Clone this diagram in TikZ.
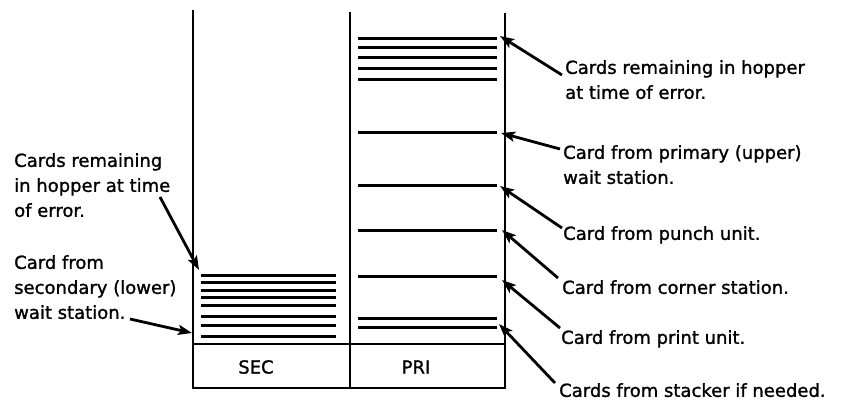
\documentclass[tikz,border=0pt]{standalone}
\usepackage{fontspec}
\setmainfont{DejaVu Sans}[BoldFont=DejaVu Sans,BoldFeatures={FakeBold=1.2}]
\usetikzlibrary{arrows.meta}
\begin{document}
\begin{tikzpicture}[x=1pt,y=-1pt,
  wall/.style={line width=2.8pt},
  card/.style={line width=3pt},
  ptr/.style={line width=2.8pt,-{Stealth[length=14pt,width=10pt,inset=3pt]}},
  lbl/.style={anchor=north west,inner sep=0pt,align=left,font=\fontsize{18}{25}\selectfont\bfseries},
  tag/.style={inner sep=0pt,font=\fontsize{18}{25}\selectfont\bfseries}]
\useasboundingbox (0,0) rectangle (847,401);
% walls and base
\draw[wall] (193,10) -- (193,388) -- (505,388) -- (505,13);
\draw[wall] (350,12) -- (350,388);
\draw[wall] (193,344) -- (505,344);
\node[tag] (sec) at (256,367) {SEC};
\node[tag] (pri) at (416,367) {PRI};
% SEC cards
\foreach \y in {275,282.7,290,297.7,305,316,325,336}
  \draw[card] (201,\y) -- (336,\y);
% PRI cards
\foreach \y in {39,47.7,57.3,68.3,79.3,133,186,231,276,318,327}
  \draw[card] (358,\y) -- (497,\y);
% right labels
\node[lbl] (t1) at (565,60) {Cards remaining in hopper\\at time of error.};
\node[lbl] (t2) at (563,145) {Card from primary (upper)\\wait station.};
\node[lbl] (t3) at (563,226) {Card from punch unit.};
\node[lbl] (t4) at (562,280) {Card from corner station.};
\node[lbl] (t5) at (561,330) {Card from print unit.};
\node[lbl] (t6) at (559,383) {Cards from stacker if needed.};
% left labels
\node[lbl] (t7) at (14,153) {Cards remaining\\in hopper at time\\of error.};
\node[lbl] (t8) at (14,255) {Card from\\secondary (lower)\\wait station.};
% arrow ends
\coordinate (a1) at (562,75);  \coordinate (b1) at (500,36);
\coordinate (a2) at (560,149); \coordinate (b2) at (501,133);
\coordinate (a3) at (562,228); \coordinate (b3) at (500,186);
\coordinate (a4) at (558,278); \coordinate (b4) at (502,230);
\coordinate (a5) at (560,328); \coordinate (b5) at (502,280);
\coordinate (a6) at (555,383); \coordinate (b6) at (499,324);
\coordinate (a7) at (160,197); \coordinate (b7) at (199,270);
\coordinate (a8) at (130,319); \coordinate (b8) at (192,333);
\foreach \i in {1,...,8}
  \draw[ptr] (a\i) -- (b\i);
\end{tikzpicture}
\end{document}
